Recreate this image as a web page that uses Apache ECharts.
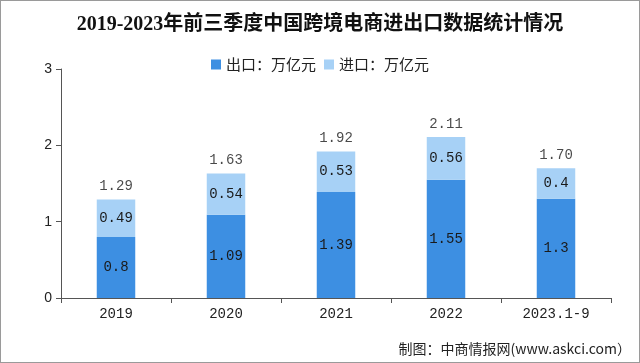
<!DOCTYPE html>
<html><head><meta charset="utf-8">
<script src="https://cdn.jsdelivr.net/npm/echarts@6/dist/echarts.min.js"></script>
<style>html,body{margin:0;padding:0;background:#fff}#c{width:638px;height:361px;border:1px solid #9a9a9a}</style>
</head><body><div id="c"></div>
<script>
var categories = ['2019','2020','2021','2022','2023.1-9'];
var exportVals = [0.8, 1.09, 1.39, 1.55, 1.3];
var importVals = [0.49, 0.54, 0.53, 0.56, 0.4];
var totals = [1.29, 1.63, 1.92, 2.11, 1.70];
var totalLabels = ['1.29','1.63','1.92','2.11','1.70'];
var yTicks = [0,1,2,3];

var numFont = '"Liberation Mono","DejaVu Sans Mono",monospace';
var chart = echarts.init(document.getElementById('c'));
chart.setOption({
  animation:false,
  title:{text:'2019-2023年前三季度中国跨境电商进出口数据统计情况',left:'center',top:9,
    textStyle:{fontFamily:'"Liberation Serif","Noto Sans CJK SC"',fontWeight:'bold',fontSize:20,color:'#111'}},
  legend:{top:51,left:'center',icon:'rect',itemWidth:10,itemHeight:10,itemGap:8,
    textStyle:{fontFamily:'"Noto Sans CJK SC"',fontSize:15,color:'#222'},
    data:['出口：万亿元','进口：万亿元']},
  grid:{left:60,right:28,top:68,bottom:64},
  xAxis:{type:'category',data:categories,
    axisLine:{lineStyle:{color:'#555'}},
    axisTick:{show:true,alignWithLabel:false,length:5,lineStyle:{color:'#555'}},
    axisLabel:{color:'#222',fontSize:14,fontFamily:numFont,margin:9}},
  yAxis:{type:'value',min:0,max:3,interval:1,
    axisLine:{show:true,lineStyle:{color:'#555'}},
    axisTick:{show:true,length:5,lineStyle:{color:'#555'}},
    splitLine:{show:false},
    axisLabel:{color:'#222',fontSize:14,fontFamily:'"Liberation Sans"',margin:9}},
  series:[
    {name:'出口：万亿元',type:'bar',stack:'a',barWidth:'35%',data:exportVals,
      itemStyle:{color:'#3d8fe2'},
      label:{show:true,position:'inside',color:'#1a1a1a',fontSize:14,fontFamily:numFont}},
    {name:'进口：万亿元',type:'bar',stack:'a',data:importVals,
      itemStyle:{color:'#a7d1f6'},
      label:{show:true,position:'inside',color:'#1a1a1a',fontSize:14,fontFamily:numFont}},
    {name:'total',type:'scatter',data:totals,symbolSize:0,silent:true,
      label:{show:true,position:'top',distance:6,color:'#1a1a1a',fontSize:14,fontFamily:numFont,
        formatter:function(p){return totalLabels[p.dataIndex];}}}
  ],
  graphic:[{type:'text',right:8,bottom:6,style:{text:'制图：中商情报网(www.askci.com）',
    font:'14px "Noto Sans CJK SC"',fill:'#222'}}]
});
</script></body></html>
